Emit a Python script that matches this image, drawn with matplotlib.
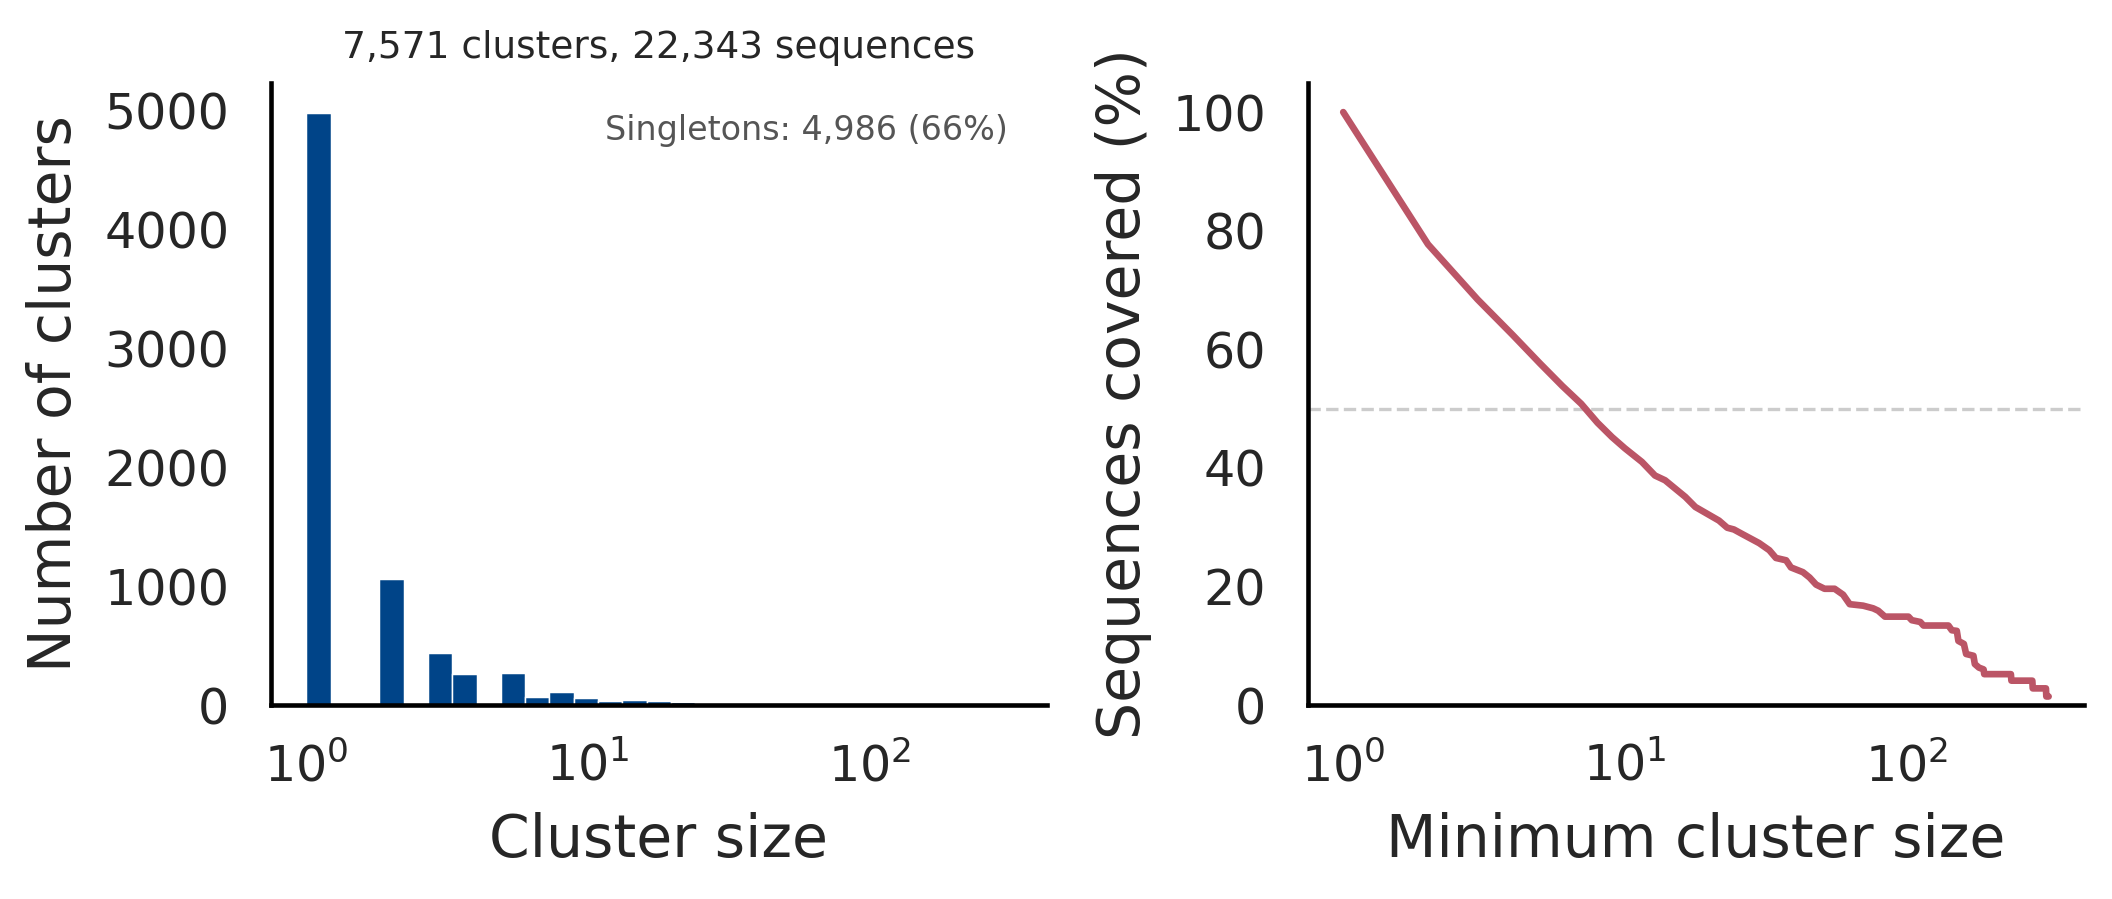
import matplotlib.pyplot as plt
import matplotlib as mpl
import numpy as np

mpl.rcParams['font.family'] = ['DejaVu Sans']
mpl.rcParams['text.color'] = '#262626'
mpl.rcParams['axes.labelcolor'] = '#262626'
mpl.rcParams['xtick.color'] = '#262626'
mpl.rcParams['ytick.color'] = '#262626'

# summary numbers
n_clusters = 7571
n_sequences = 22343
n_singletons = 4986
max_size = 320

# clusters per log-spaced bin (29 bins between 1 and max_size)
hist_counts = [4986, 0, 0, 1060, 0, 440, 260, 0, 269, 65, 108, 57, 31, 40, 31,
               23, 19, 18, 15, 13, 10, 3, 3, 3, 1, 8, 2, 1, 3]

# coverage curve
min_size = [1, 2, 3, 4, 5, 6, 7, 8, 9, 10, 11.5, 12.8, 13.9, 16.4, 17.8, 21.6,
            23.1, 24.4, 26.2, 30, 32.6, 34.4, 37.4, 38.9, 42.9, 45.3, 47.8,
            51.2, 55.6, 59.6, 62.9, 70.2, 76.2, 79.4, 83.9, 101.7, 104.5, 112,
            115, 141, 145, 151, 153, 160, 163, 173, 175, 181, 188, 189, 235,
            236, 280, 281, 313, 314, 320]
covered_pct = [100, 77.7, 68.4, 62.4, 57.6, 53.8, 50.8, 47.6, 45.2, 43.3, 41.0,
               38.7, 37.9, 35.1, 33.4, 31.1, 29.9, 29.6, 28.8, 27.3, 26.1, 24.8,
               24.4, 23.2, 22.4, 21.5, 20.3, 19.6, 19.6, 18.6, 17.0, 16.75, 16.3,
               15.9, 14.9, 14.9, 14.3, 14.0, 13.4, 13.4, 12.6, 12.5, 10.8, 10.3,
               8.6, 8.3, 6.9, 6.3, 6.0, 5.2, 5.2, 4.1, 4.1, 2.8, 2.8, 1.43, 1.43]

bar_color = '#004488'
line_color = '#BB5566'

fig = plt.figure(figsize=(7.04, 2.997), dpi=300)
ax1 = fig.add_axes([0.1283, 0.2158, 0.3674, 0.6919])
ax2 = fig.add_axes([0.6193, 0.2158, 0.3674, 0.6919])

# left: size distribution
edges = np.logspace(0, np.log10(max_size), len(hist_counts) + 1)
ax1.hist(edges[:-1], bins=edges, weights=hist_counts, color=bar_color,
         edgecolor='white', linewidth=0.35)
ax1.set_xscale('log')
ax1.set_xlabel('Cluster size', fontsize=14, labelpad=5)
ax1.set_ylabel('Number of clusters', fontsize=14, labelpad=5)
ax1.set_title(f'{n_clusters:,} clusters, {n_sequences:,} sequences', fontsize=9)
ax1.text(0.95, 0.95,
         f'Singletons: {n_singletons:,} ({100 * n_singletons / n_clusters:.0f}%)',
         transform=ax1.transAxes, ha='right', va='top', fontsize=8, color='#555555')

# right: coverage by minimum cluster size
ax2.axhline(50, color='#cccccc', ls='--', lw=0.8, zorder=1)
ax2.plot(min_size, covered_pct, color=line_color, lw=1.6, solid_capstyle='round', zorder=2)
ax2.set_xscale('log')
ax2.set_ylim(bottom=0)
ax2.set_xlabel('Minimum cluster size', fontsize=14, labelpad=5)
ax2.set_ylabel('Sequences covered (%)', fontsize=14, labelpad=5)

for ax in (ax1, ax2):
    for s in ('top', 'right'):
        ax.spines[s].set_visible(False)
    for s in ('left', 'bottom'):
        ax.spines[s].set_color('black')
        ax.spines[s].set_linewidth(1.1)
    ax.tick_params(which='both', length=0, labelsize=11.8)
    ax.tick_params(axis='y', pad=10)
    ax.tick_params(axis='x', pad=9)

fig.savefig('out.png', dpi=300)
